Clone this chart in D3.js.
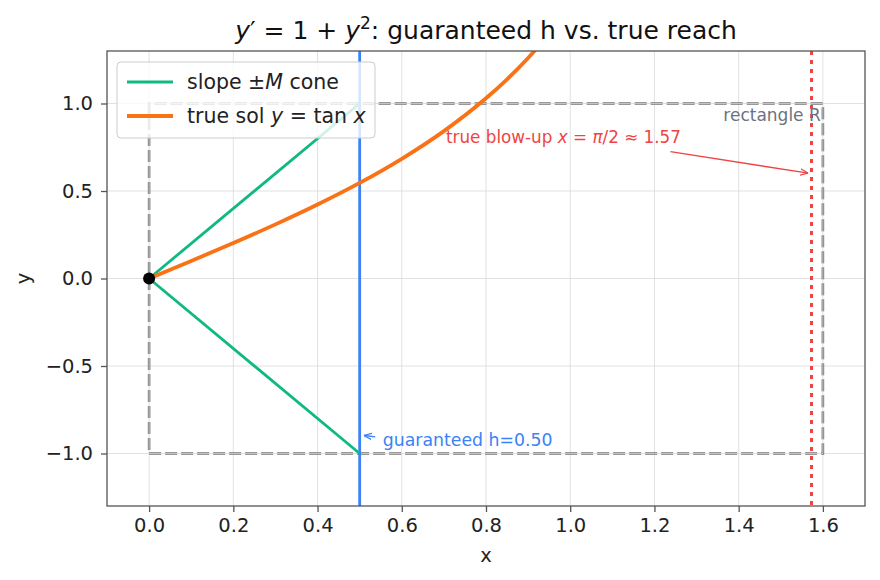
<!DOCTYPE html>
<html>
<head>
<meta charset="utf-8">
<script src="https://cdn.jsdelivr.net/npm/d3@7"></script>
<style>
  body { margin: 0; background: #fff; }
  svg { font-family: "DejaVu Sans", sans-serif; }
</style>
</head>
<body>
<svg id="chart" width="880" height="580"></svg>
<script>
// Data
const xTicks = [0.0, 0.2, 0.4, 0.6, 0.8, 1.0, 1.2, 1.4, 1.6];
const yTicks = [-1.0, -0.5, 0.0, 0.5, 1.0];
const M = 2;          // max slope 1 + b^2 on the rectangle
const hGuaranteed = 0.5;
const blowUp = Math.PI / 2;
const rectR = { x0: 0, x1: 1.6, y0: -1, y1: 1 };
const coneUp = [[0, 0], [0.5, 1]];
const coneDown = [[0, 0], [0.5, -1]];
const tanX = [0, 0.1, 0.2, 0.3, 0.4, 0.5, 0.6, 0.7, 0.8, 0.85, 0.9, 0.95];
const tanPts = tanX.map(x => [x, Math.tan(x)]);

const svg = d3.select("#chart");
const margin = { left: 107, right: 15, top: 51, bottom: 74 };
const W = 880, H = 580;

const x = d3.scaleLinear().domain([-0.1, 1.7]).range([margin.left, W - margin.right]);
const y = d3.scaleLinear().domain([-1.3, 1.3]).range([H - margin.bottom, margin.top]);

// Clip path for plot area
svg.append("defs").append("clipPath").attr("id", "clip")
  .append("rect")
  .attr("x", margin.left).attr("y", margin.top)
  .attr("width", W - margin.left - margin.right)
  .attr("height", H - margin.top - margin.bottom);

// Grid
const grid = svg.append("g");
grid.selectAll(".gx").data(xTicks).join("line")
  .attr("x1", d => x(d)).attr("x2", d => x(d))
  .attr("y1", margin.top).attr("y2", H - margin.bottom)
  .attr("stroke", "#d9d9d9").attr("stroke-width", 0.8);
grid.selectAll(".gy").data(yTicks).join("line")
  .attr("y1", d => y(d)).attr("y2", d => y(d))
  .attr("x1", margin.left).attr("x2", W - margin.right)
  .attr("stroke", "#d9d9d9").attr("stroke-width", 0.8);

const plot = svg.append("g").attr("clip-path", "url(#clip)");

// Rectangle R (dashed, double-looking edge)
const rectPath = `M${x(rectR.x0)},${y(rectR.y0)} L${x(rectR.x1)},${y(rectR.y0)} L${x(rectR.x1)},${y(rectR.y1)} L${x(rectR.x0)},${y(rectR.y1)} Z`;
plot.append("path").attr("d", rectPath)
  .attr("fill", "none").attr("stroke", "#777").attr("stroke-width", 2.6)
  .attr("stroke-dasharray", "12,4");
plot.append("path").attr("d", rectPath)
  .attr("fill", "none").attr("stroke", "#d8d8d8").attr("stroke-width", 0.8)
  .attr("stroke-dasharray", "12,4");

// Red dotted blow-up line
const xb = Math.round(x(blowUp)) + 0.5;
plot.append("line")
  .attr("x1", xb).attr("x2", xb)
  .attr("y1", margin.top).attr("y2", H - margin.bottom)
  .attr("stroke", "#ef4444").attr("stroke-width", 3)
  .attr("stroke-dasharray", "4,5");

// Blue guaranteed h line
plot.append("line")
  .attr("x1", x(hGuaranteed)).attr("x2", x(hGuaranteed))
  .attr("y1", margin.top).attr("y2", H - margin.bottom)
  .attr("stroke", "#3b82f6").attr("stroke-width", 2.8);

const line = d3.line().x(d => x(d[0])).y(d => y(d[1]));

// Cone
[coneUp, coneDown].forEach(c => {
  plot.append("path").attr("d", line(c))
    .attr("fill", "none").attr("stroke", "#10b981").attr("stroke-width", 2.8);
});

// tan x
plot.append("path").attr("d", line.curve(d3.curveMonotoneX)(tanPts))
  .attr("fill", "none").attr("stroke", "#f97316").attr("stroke-width", 3.8);

// Start point
plot.append("circle").attr("cx", x(0)).attr("cy", y(0)).attr("r", 6).attr("fill", "#000");

// Arrow markers
const defs = svg.select("defs");
function marker(id, color) {
  defs.append("marker").attr("id", id)
    .attr("viewBox", "0 0 10 10").attr("refX", 10).attr("refY", 5)
    .attr("markerWidth", 8).attr("markerHeight", 8).attr("markerUnits", "userSpaceOnUse")
    .attr("orient", "auto")
    .append("path").attr("d", "M0,1 L10,5 L0,9").attr("fill", "none")
    .attr("stroke", color).attr("stroke-width", 1.5);
}
marker("arrRed", "#ef4444");
marker("arrBlue", "#3b82f6");

// Annotations
svg.append("line")
  .attr("x1", x(1.238)).attr("y1", y(0.725))
  .attr("x2", x(1.565)).attr("y2", y(0.602))
  .attr("stroke", "#ef4444").attr("stroke-width", 1.4)
  .attr("marker-end", "url(#arrRed)");
const redText = svg.append("text")
  .attr("x", x(0.705)).attr("y", y(0.81)).attr("dy", "0.35em")
  .attr("fill", "#ef4444").style("font-size", "16.8px");
redText.append("tspan").text("true blow-up ");
redText.append("tspan").attr("font-style", "italic").text("x");
redText.append("tspan").text(" = ");
redText.append("tspan").attr("font-style", "italic").text("π");
redText.append("tspan").text("/2 ≈ 1.57");

svg.append("text")
  .attr("x", x(1.595)).attr("y", y(0.935)).attr("dy", "0.35em")
  .attr("text-anchor", "end").attr("fill", "#6b7280").style("font-size", "17px")
  .text("rectangle R");

svg.append("line")
  .attr("x1", x(0.537)).attr("y1", y(-0.905))
  .attr("x2", x(0.51)).attr("y2", y(-0.897))
  .attr("stroke", "#3b82f6").attr("stroke-width", 1.4)
  .attr("marker-end", "url(#arrBlue)");
svg.append("text")
  .attr("x", x(0.555)).attr("y", y(-0.92)).attr("dy", "0.35em")
  .attr("fill", "#3b82f6").style("font-size", "17.3px")
  .text("guaranteed h=0.50");

// Axes frame
svg.append("rect")
  .attr("x", margin.left).attr("y", margin.top)
  .attr("width", W - margin.left - margin.right)
  .attr("height", H - margin.top - margin.bottom)
  .attr("fill", "none").attr("stroke", "#555").attr("stroke-width", 1.3);

const xAxis = svg.append("g").attr("transform", `translate(0,${H - margin.bottom})`)
  .call(d3.axisBottom(x).tickValues(xTicks).tickFormat(d3.format(".1f")).tickSize(6).tickPadding(6));
const yAxis = svg.append("g").attr("transform", `translate(${margin.left},0)`)
  .call(d3.axisLeft(y).tickValues(yTicks).tickFormat(d => d3.format(".1f")(d).replace("-", "−")).tickSize(6).tickPadding(8));
[xAxis, yAxis].forEach(a => {
  a.attr("font-family", "DejaVu Sans, sans-serif").attr("font-size", null);
  a.select(".domain").remove();
  a.selectAll(".tick line").attr("stroke", "#555").attr("stroke-width", 1.3);
  a.selectAll(".tick text").style("font-size", "19.5px").attr("fill", "#222");
});

// Axis labels
svg.append("text").attr("x", (margin.left + W - margin.right) / 2).attr("y", 562)
  .attr("text-anchor", "middle").style("font-size", "19.5px").attr("fill", "#222").text("x");
svg.append("text")
  .attr("transform", `translate(30,${(margin.top + H - margin.bottom) / 2}) rotate(-90)`)
  .attr("text-anchor", "middle").style("font-size", "19.5px").attr("fill", "#222").text("y");

// Title
const title = svg.append("text")
  .attr("x", (margin.left + W - margin.right) / 2).attr("y", 39)
  .attr("text-anchor", "middle").style("font-size", "25px").attr("fill", "#111");
title.append("tspan").attr("font-style", "italic").text("y");
title.append("tspan").text("′ = 1 + ");
title.append("tspan").attr("font-style", "italic").text("y");
title.append("tspan").style("font-size", "17px").attr("dy", -10).text("2");
title.append("tspan").attr("dy", 10).text(": guaranteed h vs. true reach");

// Legend
const leg = svg.append("g").attr("transform", "translate(117,62)");
leg.append("rect").attr("width", 258).attr("height", 76).attr("rx", 4)
  .attr("fill", "rgba(255,255,255,0.8)").attr("stroke", "#ccc").attr("stroke-width", 1);
const entries = [
  { color: "#10b981", w: 2.8, parts: [["slope ±", false], ["M", true], [" cone", false]] },
  { color: "#f97316", w: 3.8, parts: [["true sol ", false], ["y", true], [" = tan ", false], ["x", true]] }
];
entries.forEach((e, i) => {
  const cy = 20 + i * 34;
  leg.append("line").attr("x1", 10).attr("x2", 56).attr("y1", cy).attr("y2", cy)
    .attr("stroke", e.color).attr("stroke-width", e.w);
  const t = leg.append("text").attr("x", 70).attr("y", cy).attr("dy", "0.35em")
    .style("font-size", "20.5px").attr("fill", "#222");
  e.parts.forEach(p => t.append("tspan").attr("font-style", p[1] ? "italic" : null).text(p[0]));
});
</script>
</body>
</html>
